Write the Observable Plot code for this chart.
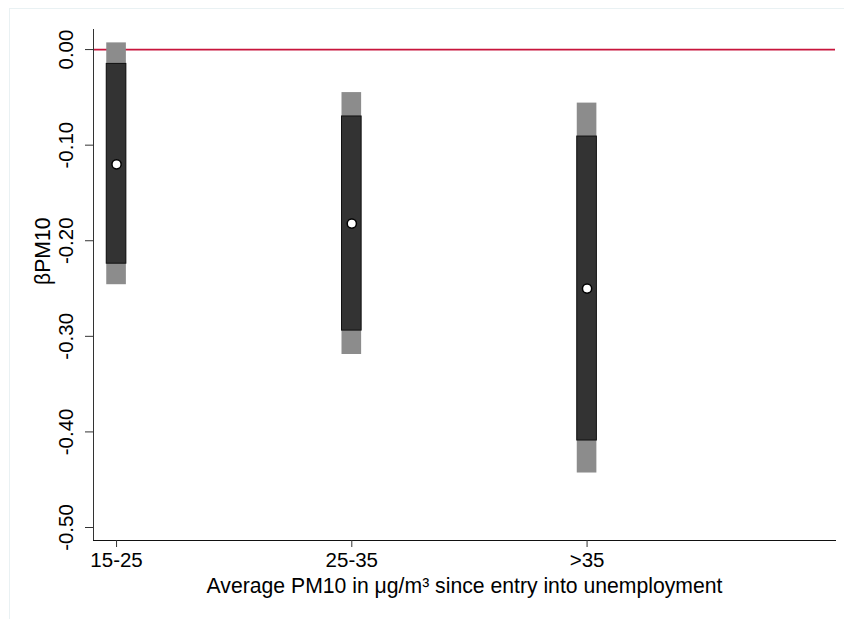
<!DOCTYPE html>
<html>
<head>
<meta charset="utf-8">
<script src="https://cdn.jsdelivr.net/npm/d3@7"></script>
<script src="https://cdn.jsdelivr.net/npm/@observablehq/plot@0.6"></script>
<style>
  html, body { margin: 0; padding: 0; background: #fff; }
  #wrap { position: relative; width: 844px; height: 619px; overflow: hidden; }
  #border { position: absolute; left: 9px; top: 8px; width: 900px; height: 700px; border: 1px solid #e9f1f3; pointer-events: none; }
  svg { font-family: "Liberation Sans", Arial, sans-serif; }
</style>
</head>
<body>
<div id="wrap"><div id="border"></div></div>
<script>
// Data
const categories = ["15-25", "25-35", ">35"];
const positions = [1, 2, 3];
const estimates = [-0.120, -0.182, -0.250];
const ci95Low  = [-0.246, -0.319, -0.443];
const ci95High = [0.007, -0.045, -0.056];
const ci90Low  = [-0.224, -0.294, -0.409];
const ci90High = [-0.015, -0.070, -0.091];
const yTicks = [0, -0.1, -0.2, -0.3, -0.4, -0.5];
const yLabel = "βPM10";
const xLabel = "Average PM10 in μg/m³ since entry into unemployment";

const rows = categories.map((c, i) => ({
  cat: c, x: positions[i], est: estimates[i],
  lo95: ci95Low[i], hi95: ci95High[i], lo90: ci90Low[i], hi90: ci90High[i]
}));

const halfW = 0.0417;
const fsTick = 20.5;
const fsTitle = 21.2;

const chart = Plot.plot({
  width: 844,
  height: 619,
  marginLeft: 93,
  marginRight: 9,
  marginTop: 29,
  marginBottom: 79,
  style: { fontFamily: '"Liberation Sans", Arial, sans-serif', fontSize: fsTick + "px", background: "transparent" },
  x: { type: "linear", domain: [0.902, 4.056] },
  y: { domain: [-0.5136, 0.021] },
  marks: [
    Plot.ruleY([0], { stroke: "#c8153c", strokeWidth: 1.8 }),
    Plot.rect(rows, { x1: d => d.x - halfW, x2: d => d.x + halfW, y1: "lo95", y2: "hi95", fill: "#8c8c8c" }),
    Plot.rect(rows, { x1: d => d.x - halfW, x2: d => d.x + halfW, y1: "lo90", y2: "hi90", fill: "#333333", stroke: "#111", strokeWidth: 1 }),
    Plot.dot(rows, { x: "x", y: "est", r: 4.6, fill: "white", stroke: "black", strokeWidth: 1.5 }),
    Plot.frame({ anchor: "left", stroke: "#333" }),
    Plot.frame({ anchor: "bottom", stroke: "#111" }),
    Plot.axisY({ ticks: yTicks, tickFormat: d => d.toFixed(2), tickSize: 8, tickPadding: 13, tickRotate: -90, label: null, fontSize: fsTick, stroke: "#333", color: "#000" }),
    Plot.axisX({ ticks: positions, tickFormat: d => categories[positions.indexOf(d)], tickSize: 7, tickPadding: 5, label: null, fontSize: fsTick, stroke: "#333", color: "#000" }),
    Plot.text([yLabel], { frameAnchor: "left", dx: -50, rotate: -90, fontSize: fsTitle, fill: "#000" }),
    Plot.text([xLabel], { frameAnchor: "bottom", dy: 52, lineAnchor: "bottom", fontSize: fsTitle, fill: "#000" })
  ]
});
document.getElementById("wrap").prepend(chart);
</script>
</body>
</html>
